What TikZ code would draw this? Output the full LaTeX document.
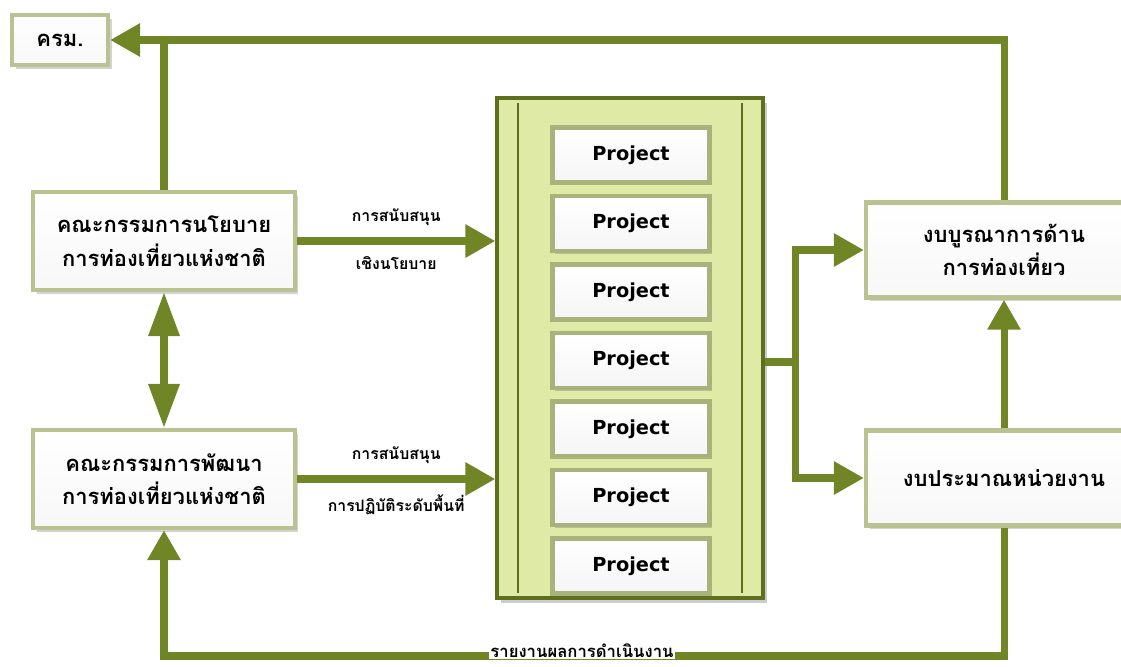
\documentclass[tikz,border=0pt]{standalone}
\usepackage{fontspec}
\newfontfamily\thai[Script=Thai]{Loma}
\setsansfont{DejaVu Sans}
\usetikzlibrary{positioning,arrows.meta,shadows}
\definecolor{olivedark}{RGB}{94,112,30}
\definecolor{olivemid}{RGB}{112,134,38}
\definecolor{panelfill}{RGB}{223,234,166}
\definecolor{boxrim}{RGB}{186,194,146}
\begin{document}
\begin{tikzpicture}[x=0.02cm, y=-0.02cm,
    box/.style={draw=boxrim, line width=2.5pt, top color=white, bottom color=gray!6, rectangle,
      drop shadow={opacity=0.35, shadow xshift=2pt, shadow yshift=-2pt},
      font=\thai\bfseries\fontsize{12.5}{19}\selectfont, align=center},
    projbox/.style={draw=boxrim!80!olivedark, line width=2.5pt, top color=white, bottom color=gray!8,
      minimum width=3.14cm, minimum height=1.1cm,
      drop shadow={opacity=0.4, shadow xshift=1.5pt, shadow yshift=-1.5pt},
      font=\sffamily\bfseries\fontsize{11}{13}\selectfont},
    lbl/.style={font=\thai\bfseries\fontsize{9}{11}\selectfont, inner sep=1pt},
    link/.style={draw=olivemid, line width=4pt},
    conn/.style={link, -{Triangle[length=17pt,width=18pt,fill=olivemid]}},
    dbl/.style={link, {Triangle[length=25pt,width=17pt,fill=olivemid]}-{Triangle[length=25pt,width=17pt,fill=olivemid]}}]
  \useasboundingbox (0,0) rectangle (1121,666);
  % left side
  \node[box, minimum width=1.92cm, minimum height=1cm] (krm) at (60,40) {ครม.};
  \node[box, minimum width=5.24cm, minimum height=1.96cm] (policy) at (164,241) {คณะกรรมการนโยบาย\\การท่องเที่ยวแห่งชาติ};
  \node[box, minimum width=5.24cm, minimum height=1.96cm] (devel) at (164,479) {คณะกรรมการพัฒนา\\การท่องเที่ยวแห่งชาติ};
  % projects
  \node[draw=olivedark, line width=2pt, fill=panelfill, minimum width=5.32cm, minimum height=10cm,
    drop shadow={opacity=0.4, shadow xshift=2pt, shadow yshift=-3pt}] (panel) at (630,348) {};
  \draw[olivedark, line width=1pt] ([xshift=0.46cm,yshift=-4pt]panel.north west) -- ([xshift=0.46cm,yshift=4pt]panel.south west);
  \draw[olivedark, line width=1pt] ([xshift=-0.46cm,yshift=-4pt]panel.north east) -- ([xshift=-0.46cm,yshift=4pt]panel.south east);
  \foreach \i in {1,...,7}
    \node[projbox] (p\i) at (631,{155+68.5*(\i-1)}) {Project};
  % right side
  \node[box, minimum width=5.52cm, minimum height=1.9cm] (integ) at (1004,250) {งบบูรณาการด้าน\\การท่องเที่ยว};
  \node[box, minimum width=5.52cm, minimum height=1.9cm] (agency) at (1004,478) {งบประมาณหน่วยงาน};
  \coordinate (split) at (795,362);
  \coordinate (report) at (582,656);
  % connectors
  \draw[conn] (integ.north) |- (krm.east);
  \draw[link] (policy.north) -- (policy.north |- krm.east);
  \draw[dbl] (policy.south) -- (devel.north);
  \draw[conn] (policy.east) -- (panel.west |- policy.east)
    node[lbl, midway, above=6pt] {การสนับสนุน}
    node[lbl, midway, below=6pt] {เชิงนโยบาย};
  \draw[conn] (devel.east) -- (panel.west |- devel.east)
    node[lbl, midway, above=6pt] {การสนับสนุน}
    node[lbl, midway, below=6pt] {การปฏิบัติระดับพื้นที่};
  \draw[link] (panel.east |- split) -- (split);
  \draw[conn] (split) |- (integ.west);
  \draw[conn] (split) |- (agency.west);
  \draw[conn] (agency.north) -- (integ.south);
  \draw[conn] (agency.south) |- (report) -| (devel.south);
  \node[fill=white, inner sep=1pt, font=\thai\bfseries\fontsize{9.5}{11}\selectfont, yshift=3pt] at (report) {รายงานผลการดำเนินงาน};
\end{tikzpicture}
\end{document}
